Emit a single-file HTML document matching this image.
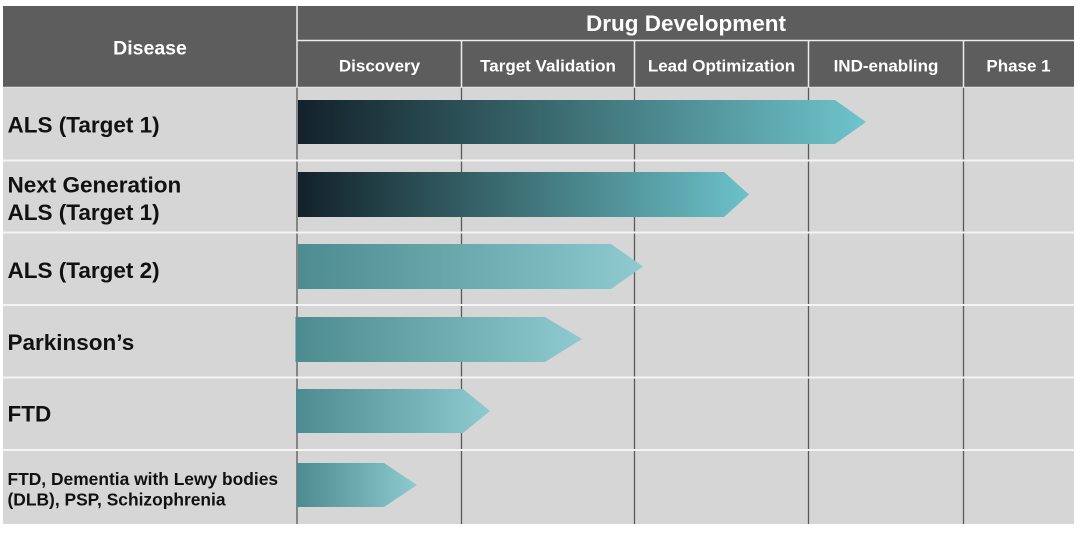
<!DOCTYPE html>
<html>
<head>
<meta charset="utf-8">
<style>
  html, body { margin: 0; padding: 0; background: #ffffff; }
  svg { display: block; }
  text { font-family: "Liberation Sans", Arial, sans-serif; font-weight: bold; }
</style>
</head>
<body>
<svg width="1080" height="534" viewBox="0 0 1080 534" xmlns="http://www.w3.org/2000/svg">
  <defs>
    <linearGradient id="gDark1" x1="298" y1="0" x2="866" y2="0" gradientUnits="userSpaceOnUse">
      <stop offset="0" stop-color="#13212a"/>
      <stop offset="0.45" stop-color="#3a6b70"/>
      <stop offset="1" stop-color="#6fc4cc"/>
    </linearGradient>
    <linearGradient id="gDark2" x1="298" y1="0" x2="749" y2="0" gradientUnits="userSpaceOnUse">
      <stop offset="0" stop-color="#12212a"/>
      <stop offset="0.45" stop-color="#3a6b70"/>
      <stop offset="1" stop-color="#6cc1c9"/>
    </linearGradient>
    <linearGradient id="gLight" x1="0" y1="0" x2="1" y2="0">
      <stop offset="0" stop-color="#4c8b8f"/>
      <stop offset="1" stop-color="#8ecacf"/>
    </linearGradient>
  </defs>

  <!-- table background -->
  <rect x="3" y="6" width="1071" height="518" fill="#d6d6d6"/>
  <!-- header -->
  <rect x="3" y="6" width="1071" height="81" fill="#5d5d5d"/>

  <!-- body vertical dark lines -->
  <g stroke="#5a5a5a" stroke-width="1.3">
    <line x1="297" y1="87" x2="297" y2="524"/>
    <line x1="461.5" y1="87" x2="461.5" y2="524"/>
    <line x1="634.5" y1="87" x2="634.5" y2="524"/>
    <line x1="808.5" y1="87" x2="808.5" y2="524"/>
    <line x1="963.5" y1="87" x2="963.5" y2="524"/>
  </g>

  <!-- header white lines -->
  <g stroke="#ececec" stroke-width="1.5">
    <line x1="297" y1="6" x2="297" y2="87"/>
    <line x1="297" y1="40.5" x2="1074" y2="40.5"/>
    <line x1="461.5" y1="40.5" x2="461.5" y2="87"/>
    <line x1="634.5" y1="40.5" x2="634.5" y2="87"/>
    <line x1="808.5" y1="40.5" x2="808.5" y2="87"/>
    <line x1="963.5" y1="40.5" x2="963.5" y2="87"/>
    <line x1="3" y1="87.3" x2="1074" y2="87.3" stroke="#e4e4e4" stroke-width="1"/>
  </g>

  <!-- row separators -->
  <g stroke="#f4f4f4" stroke-width="2">
    <line x1="3" y1="160.5" x2="1074" y2="160.5"/>
    <line x1="3" y1="232.5" x2="1074" y2="232.5"/>
    <line x1="3" y1="305" x2="1074" y2="305"/>
    <line x1="3" y1="377.5" x2="1074" y2="377.5"/>
    <line x1="3" y1="450" x2="1074" y2="450"/>
  </g>

  <!-- arrows -->
  <polygon points="298,100 835,100 866,122 835,144 298,144" fill="url(#gDark1)"/>
  <polygon points="298,172 724,172 749,194.5 724,217 298,217" fill="url(#gDark2)"/>
  <polygon points="298,244 611,244 643,266.5 611,289 298,289" fill="url(#gLight)"/>
  <polygon points="295.5,317 545,317 582,339 545,362 295.5,362" fill="url(#gLight)"/>
  <polygon points="296,389 463,389 490,411 463,433 296,433" fill="url(#gLight)"/>
  <polygon points="297,463 384,463 417,485 384,507 297,507" fill="url(#gLight)"/>

  <!-- header text -->
  <text x="686" y="31" fill="#ffffff" font-size="22.5" text-anchor="middle">Drug Development</text>
  <text x="150" y="54.3" fill="#ffffff" font-size="19.5" text-anchor="middle">Disease</text>
  <g fill="#ffffff" font-size="17" text-anchor="middle">
    <text x="379.5" y="71.5">Discovery</text>
    <text x="548" y="71.5">Target Validation</text>
    <text x="721.5" y="71.5">Lead Optimization</text>
    <text x="886" y="71.5">IND-enabling</text>
    <text x="1018.5" y="71.5">Phase 1</text>
  </g>

  <!-- row labels -->
  <g fill="#111111" font-size="22.5">
    <text x="7.5" y="132.7">ALS (Target 1)</text>
    <text x="7.5" y="192.3">Next Generation</text>
    <text x="7.5" y="220">ALS (Target 1)</text>
    <text x="7.5" y="278">ALS (Target 2)</text>
    <text x="7.5" y="350">Parkinson’s</text>
    <text x="7.5" y="421.5">FTD</text>
  </g>
  <g fill="#111111" font-size="17.4">
    <text x="7.5" y="485">FTD, Dementia with Lewy bodies</text>
    <text x="7.5" y="505.7">(DLB), PSP, Schizophrenia</text>
  </g>
</svg>
</body>
</html>
